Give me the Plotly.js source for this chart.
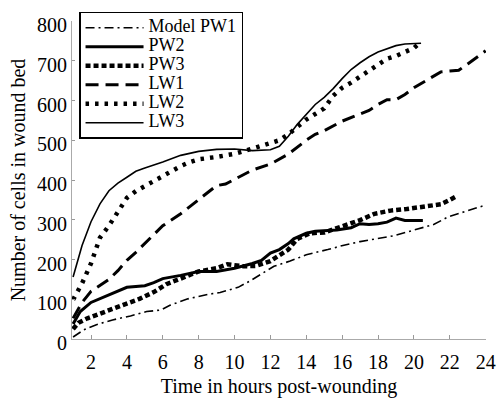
<!DOCTYPE html>
<html>
<head>
<meta charset="utf-8">
<script src="https://cdn.plot.ly/plotly-3.0.1.min.js"></script>
<style>html,body{margin:0;padding:0;background:#fff;}#chart{width:502px;height:401px;}</style>
</head>
<body>
<div id="chart"></div>
<script>
// Series names
var seriesNames = ["Model PW1", "PW2", "PW3", "LW1", "LW2", "LW3"];

// Model PW1
var pw1Hours = [1, 1.6, 2.3, 3.2, 4.2, 5.1, 5.9, 6.4, 7.4, 8.5, 9.2, 10.2, 10.9, 11.5, 12.2, 13.1, 14, 15.2, 16.1, 17, 18, 18.9, 20, 21.1, 21.9, 22.6, 23.4, 24];
var pw1Cells = [5, 23, 36, 48, 58, 69, 73, 85, 101, 112, 117, 130, 147, 163, 183, 196, 212, 225, 236, 245, 252, 260, 274, 288, 307, 317, 327, 337];

// PW2
var pw2Hours = [1, 1.4, 2, 2.7, 3.4, 4, 5, 5.5, 6, 7, 8, 9, 10, 11, 11.5, 12, 12.5, 13, 13.3, 14, 14.5, 15, 15.7, 16.5, 17, 17.5, 18, 18.5, 19, 19.5, 20.5];
var pw2Cells = [38, 69, 92, 105, 118, 130, 134, 142, 152, 160, 170, 170, 178, 190, 198, 216, 225, 240, 252, 266, 271, 272, 274, 280, 290, 288, 290, 294, 304, 298, 298];

// PW3
var pw3Hours = [1, 1.3, 1.8, 2.3, 3, 4, 4.7, 5.5, 6.2, 7, 8, 9, 9.6, 10.5, 11.2, 12, 12.5, 13, 13.5, 14.2, 15, 15.7, 16.5, 17, 17.8, 18.7, 19.6, 20.6, 21.5, 22, 22.4];
var pw3Cells = [25, 41, 52, 60, 72, 90, 101, 118, 138, 152, 170, 178, 188, 183, 184, 196, 212, 225, 252, 266, 268, 278, 290, 299, 315, 323, 327, 333, 339, 350, 360];

// LW1
var lw1Hours = [1, 1.5, 2, 2.5, 3, 3.5, 4, 4.5, 5, 6, 7, 8, 9, 9.5, 10, 11, 12, 12.5, 13, 14, 14.5, 15, 15.5, 16, 17, 17.5, 18, 18.5, 19, 19.5, 20, 21, 21.5, 22, 22.5, 23, 23.5, 24];
var lw1Cells = [52, 92, 120, 135, 150, 172, 198, 218, 240, 285, 315, 350, 386, 390, 402, 425, 440, 452, 465, 500, 515, 524, 536, 548, 566, 575, 590, 602, 602, 615, 632, 660, 672, 674, 676, 692, 708, 725];

// LW2
var lw2Hours = [1, 1.5, 2, 2.5, 3, 3.5, 4, 4.5, 5, 5.5, 6, 6.5, 7, 7.5, 8, 9, 10, 11, 12, 12.5, 13, 13.5, 14, 14.5, 15, 15.5, 16, 16.5, 17, 17.5, 18, 18.5, 19, 19.5, 20, 20.3];
var lw2Cells = [99, 140, 190, 255, 285, 320, 355, 372, 385, 395, 410, 422, 435, 445, 452, 458, 466, 479, 492, 500, 515, 535, 552, 566, 580, 612, 632, 645, 660, 675, 692, 705, 712, 722, 732, 744];

// LW3
var lw3Hours = [1, 1.5, 2, 2.5, 3, 3.5, 4, 4.5, 5, 6, 7, 8, 9, 10, 11, 12, 12.5, 13, 13.5, 14, 14.5, 15, 15.5, 16, 16.5, 17, 17.5, 18, 18.5, 19, 19.5, 20, 20.4];
var lw3Cells = [156, 235, 295, 340, 373, 392, 407, 422, 430, 445, 462, 472, 477, 478, 474, 476, 485, 510, 540, 565, 590, 608, 630, 655, 678, 695, 710, 722, 731, 738, 742, 744, 744];

// Axis ticks
var xTicks = [2, 4, 6, 8, 10, 12, 14, 16, 18, 20, 22, 24];
var yTicks = [0, 100, 200, 300, 400, 500, 600, 700, 800];

var hoursList = [pw1Hours, pw2Hours, pw3Hours, lw1Hours, lw2Hours, lw3Hours];
var cellsList = [pw1Cells, pw2Cells, pw3Cells, lw1Cells, lw2Cells, lw3Cells];
var lineStyles = [
  {color: "#000", width: 1.6, dash: "9px,4px,2px,4px"},
  {color: "#000", width: 3, dash: "solid"},
  {color: "#000", width: 4.5, dash: "5px,3px"},
  {color: "#000", width: 3, dash: "13px,7px"},
  {color: "#000", width: 4.5, dash: "3.5px,6px"},
  {color: "#000", width: 1.6, dash: "solid"}
];

var traces = seriesNames.map(function (name, i) {
  return {
    x: hoursList[i],
    y: cellsList[i],
    type: "scatter",
    mode: "lines",
    name: '<span style="font-size:18px">' + name + '</span>',
    line: lineStyles[i],
    hoverinfo: "skip"
  };
});

var serif = "Liberation Serif";

var layout = {
  width: 502,
  height: 401,
  margin: {l: 72, r: 16, t: 17, b: 62, pad: 0},
  paper_bgcolor: "#fff",
  plot_bgcolor: "#fff",
  font: {family: serif, size: 20, color: "#000"},
  showlegend: true,
  legend: {
    x: 0.017, y: 1.029, xanchor: "left", yanchor: "top",
    bgcolor: "#fff", bordercolor: "#000", borderwidth: 1.5,
    font: {family: serif, size: 12, color: "#000"},
    itemwidth: 58,
    tracegroupgap: 0
  },
  xaxis: {
    range: [0.94, 24.02],
    tickvals: xTicks,
    ticktext: xTicks.map(String),
    ticks: "inside", ticklen: 4, tickcolor: "#999", tickwidth: 1,
    showline: true, linecolor: "#aaa", linewidth: 1,
    showgrid: false, zeroline: false,
    tickfont: {family: serif, size: 20, color: "#000"},
    ticklabelstandoff: 5,
    title: {text: "Time in hours post-wounding", font: {family: serif, size: 20, color: "#000"}, standoff: 6}
  },
  yaxis: {
    range: [0, 800],
    tickvals: yTicks,
    ticktext: yTicks.map(String),
    ticks: "inside", ticklen: 3, tickcolor: "#999", tickwidth: 1,
    showline: true, linecolor: "#aaa", linewidth: 1,
    showgrid: false, zeroline: false,
    tickfont: {family: serif, size: 20, color: "#000"},
    ticklabelshift: 4,
    title: {text: "Number of cells in wound bed", font: {family: serif, size: 20, color: "#000"}, standoff: 6}
  }
};

Plotly.newPlot("chart", traces, layout, {staticPlot: true, displayModeBar: false});
</script>
</body>
</html>
